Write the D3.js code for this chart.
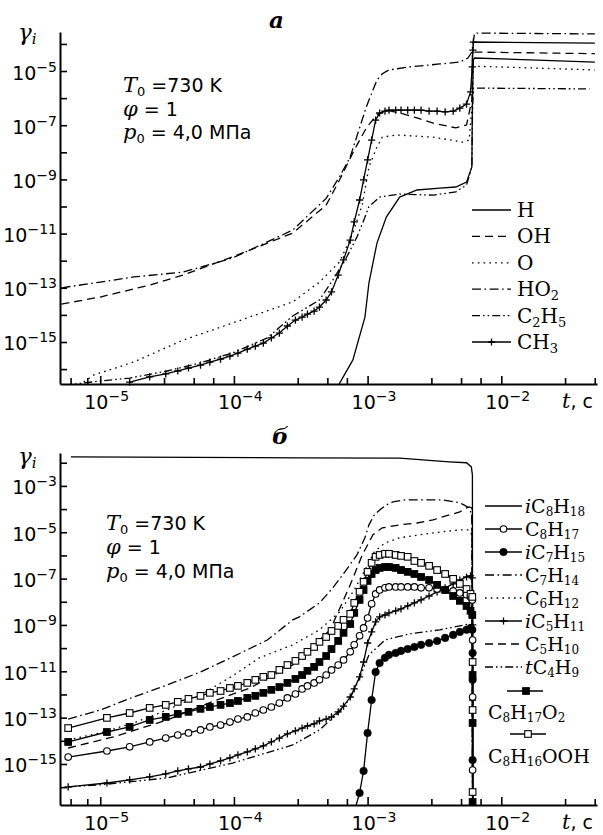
<!DOCTYPE html>
<html>
<head>
<meta charset="utf-8">
<script src="https://cdn.jsdelivr.net/npm/d3@7"></script>
<style>
  body { margin: 0; background: #fff; }
  svg { display: block; }
</style>
</head>
<body>
<svg id="chart" width="603" height="835"></svg>
<script>
// =====================================================================
// DATA, stored as log10 values: [log10 t, log10 γ]
// =====================================================================

// output times of the run (log10 t, s); the marked curves use these
const lgTime = [-5.24, -4.95, -4.78, -4.63, -4.51, -4.42, -4.34, -4.25, -4.18, -4.10,
  -4.03, -3.97, -3.90, -3.84, -3.78, -3.72, -3.66, -3.60, -3.54, -3.49,
  -3.45, -3.40, -3.36, -3.31, -3.27, -3.22, -3.18, -3.13, -3.10, -3.06,
  -3.03, -3.00, -2.97, -2.94, -2.91, -2.87, -2.84, -2.79, -2.75, -2.70,
  -2.65, -2.60, -2.54, -2.48, -2.42, -2.36, -2.31, -2.26, -2.23, -2.217];
const lgDropTime = -2.2145;   // points on the ignition drop
const lgAfterDrop = -2.214;   // last point, below the axis
const OFF_SCALE = -18;

// ---- panel a ----
const H_a = [[-3.23, -16.7], [-3.11, -15.66], [-3.02, -14.08], [-2.99, -12.82], [-2.93, -11.35],
  [-2.86, -10.39], [-2.76, -9.65], [-2.63, -9.39], [-2.46, -9.32], [-2.34, -9.28], [-2.26, -9.10],
  [-2.22, -8.54], [-2.216, -6.07], [-2.209, -4.59], [-2.20, -4.52], [-1.30, -4.67]];
const OH_a = [[-5.29, -13.60], [-5.0, -13.34], [-4.63, -12.90], [-4.38, -12.53], [-4.01, -11.86],
  [-3.56, -10.98], [-3.31, -9.95], [-3.21, -9.02], [-3.10, -7.92], [-3.01, -7.10], [-2.93, -6.62],
  [-2.86, -6.44], [-2.76, -6.55], [-2.63, -6.73], [-2.51, -6.92], [-2.34, -7.10], [-2.26, -6.99],
  [-2.22, -6.07], [-2.216, -4.30], [-1.30, -4.36]];
const O_a = [[-5.16, -16.6], [-5.05, -16.22], [-4.75, -15.74], [-4.38, -14.93], [-4.01, -14.3],
  [-3.56, -13.52], [-3.36, -12.79], [-3.21, -12.05], [-3.11, -10.98], [-3.04, -9.94], [-2.99, -8.54],
  [-2.93, -7.80], [-2.89, -7.44], [-2.78, -7.36], [-2.51, -7.44], [-2.29, -7.62], [-2.24, -7.55],
  [-2.216, -6.07], [-2.209, -4.82], [-1.30, -4.96]];
const HO2_a = [[-5.29, -13.0], [-5.0, -12.79], [-4.75, -12.6], [-4.38, -12.42], [-4.01, -11.9],
  [-3.56, -10.87], [-3.31, -9.7], [-3.21, -8.9], [-3.13, -8.17], [-3.06, -7.1], [-3.01, -6.33],
  [-2.93, -5.33], [-2.89, -5.1], [-2.84, -4.96], [-2.69, -4.85], [-2.46, -4.74], [-2.31, -4.67],
  [-2.25, -4.52], [-2.22, -4.3], [-2.20, -3.6], [-1.30, -3.63]];
const C2H5_a = [[-5.27, -16.6], [-5.0, -16.44], [-4.78, -16.33], [-4.5, -16.07], [-4.25, -15.77],
  [-4.01, -15.4], [-3.75, -14.85], [-3.56, -14.04], [-3.36, -13.45], [-3.26, -12.71], [-3.16, -11.9],
  [-3.08, -11.13], [-3.02, -10.4], [-2.99, -10.0], [-2.91, -9.65], [-2.76, -9.54], [-2.51, -9.58],
  [-2.34, -9.46], [-2.26, -9.21], [-2.22, -8.54], [-2.216, -6.70], [-2.209, -5.63], [-1.34, -5.66]];
// CH3 on the output times, then the jump and the level after ignition
const CH3_a = [null, null, -16.48, -16.29, -16.18, -16.07, -15.96, -15.85, -15.74, -15.63,
  -15.52, -15.41, -15.26, -15.15, -15.04, -14.85, -14.67, -14.41, -14.19, -14.08,
  -13.97, -13.86, -13.71, -13.45, -13.15, -12.53, -11.97, -11.24, -10.57, -9.76,
  -9.02, -8.28, -7.55, -6.81, -6.55, -6.48, -6.44, -6.44, -6.44, -6.44,
  -6.44, -6.44, -6.48, -6.48, -6.51, -6.48, -6.37, -6.22, -5.77, -4.85];
const CH3_jump_a = [[-2.212, -4.23], [-2.209, -3.93]];
const CH3_after_a = [[-1.30, -3.97]];

// ---- panel б ----
const iC8H18_b = [[-5.22, -1.75], [-3.51, -1.79], [-2.76, -1.80], [-2.39, -1.96], [-2.26, -2.0],
  [-2.224, -2.18], [-2.216, -2.53], [-2.214, OFF_SCALE]];
const C8H17_b = [-14.70, -14.44, -14.26, -14.05, -13.88, -13.75, -13.66, -13.53, -13.40, -13.32,
  -13.19, -13.06, -12.97, -12.80, -12.67, -12.54, -12.37, -12.15, -11.98, -11.76,
  -11.63, -11.50, -11.37, -11.16, -10.94, -10.73, -10.51, -10.16, -9.86, -9.47,
  -9.13, -8.70, -8.09, -7.66, -7.49, -7.40, -7.36, -7.36, -7.36, -7.36,
  -7.36, -7.40, -7.40, -7.45, -7.49, -7.53, -7.62, -7.70, -7.79, -7.92];
const C8H17_drop = [-9.65, -12.11, -15.26];
const iC7H15_b = [null, null, null, null, null, null, null, null, null, null,
  null, null, null, null, null, null, null, null, null, null,
  null, null, null, null, null, null, null, null, -17.07, -16.25,
  -15.30, -13.66, -12.24, -11.03, -10.64, -10.42, -10.29, -10.21, -10.12, -10.04,
  -9.95, -9.86, -9.78, -9.69, -9.56, -9.43, -9.30, -9.21, -9.13, -9.21];
const iC7H15_drop = [-10.21, -11.37, -14.83];
const C7H14_b = [[-5.24, -13.06], [-5.0, -12.67], [-4.75, -12.11], [-4.5, -11.59], [-4.25, -11.03],
  [-4.01, -10.38], [-3.75, -9.65], [-3.56, -8.78], [-3.51, -8.65], [-3.36, -8.05], [-3.26, -7.40],
  [-3.17, -6.71], [-3.08, -5.98], [-3.02, -5.24], [-2.99, -4.68], [-2.95, -4.25], [-2.91, -4.04],
  [-2.86, -3.82], [-2.81, -3.69], [-2.72, -3.60], [-2.63, -3.60], [-2.54, -3.60], [-2.44, -3.60],
  [-2.35, -3.69], [-2.31, -3.73], [-2.28, -3.82], [-2.24, -3.95], [-2.22, -4.25], [-2.214, OFF_SCALE]];
const C6H12_b = [[-5.24, -13.96], [-5.0, -13.66], [-4.75, -13.23], [-4.5, -12.67], [-4.25, -12.02],
  [-4.01, -11.20], [-3.81, -10.42], [-3.56, -9.86], [-3.36, -9.21], [-3.21, -8.44], [-3.10, -7.49],
  [-3.02, -6.63], [-2.95, -5.85], [-2.87, -5.46], [-2.76, -5.24], [-2.61, -5.11], [-2.46, -4.99],
  [-2.31, -4.90], [-2.24, -4.90], [-2.22, -5.11], [-2.214, OFF_SCALE]];
const iC5H11_b = [-15.99, -15.82, -15.69, -15.56, -15.43, -15.30, -15.21, -15.13, -15.00, -14.87,
  -14.74, -14.61, -14.48, -14.35, -14.22, -14.05, -13.88, -13.70, -13.57, -13.45,
  -13.36, -13.27, -13.14, -13.06, -12.97, -12.75, -12.50, -12.11, -11.76, -11.24,
  -10.60, -9.78, -9.30, -8.87, -8.65, -8.57, -8.48, -8.39, -8.31, -8.18,
  -8.05, -7.92, -7.75, -7.57, -7.40, -7.23, -7.06, -6.93, -6.88, -6.97];
const iC5H11_drop = [-7.92, -9.00, -12.24];
const C5H10_b = [[-5.24, -14.31], [-4.90, -13.83], [-4.50, -13.10], [-4.13, -12.24], [-3.88, -11.72],
  [-3.56, -10.73], [-3.28, -9.21], [-3.13, -7.27], [-3.04, -5.98], [-2.96, -5.11], [-2.89, -4.81],
  [-2.76, -4.68], [-2.63, -4.60], [-2.51, -4.47], [-2.44, -4.34], [-2.31, -4.12], [-2.26, -3.95],
  [-2.24, -3.91], [-2.22, -3.95], [-2.214, OFF_SCALE]];
const tC4H9_b = [[-5.24, -15.99], [-5.0, -15.90], [-4.5, -15.60], [-4.01, -14.96], [-3.56, -14.18],
  [-3.36, -13.53], [-3.21, -12.75], [-3.13, -12.15], [-3.06, -11.29], [-2.99, -10.29], [-2.87, -9.65],
  [-2.69, -9.39], [-2.46, -9.21], [-2.31, -9.04], [-2.24, -8.96], [-2.22, -9.04], [-2.214, OFF_SCALE]];
const C8H17O2_b = [-14.05, -13.62, -13.40, -13.10, -12.97, -12.84, -12.75, -12.62, -12.54, -12.45,
  -12.37, -12.28, -12.15, -12.06, -11.93, -11.80, -11.68, -11.50, -11.33, -11.16,
  -10.98, -10.81, -10.60, -10.34, -10.04, -9.69, -9.34, -8.96, -8.48, -7.92,
  -7.49, -7.10, -6.80, -6.63, -6.54, -6.50, -6.50, -6.54, -6.63, -6.71,
  -6.80, -6.93, -7.06, -7.27, -7.49, -7.75, -7.96, -8.18, -8.39, -8.57];
const C8H17O2_drop = [-11.16, -13.23, -16.64];
const C8H16OOH_b = [-13.45, -13.01, -12.80, -12.58, -12.45, -12.32, -12.19, -12.06, -11.93, -11.85,
  -11.72, -11.63, -11.50, -11.37, -11.24, -11.16, -10.94, -10.73, -10.55, -10.34,
  -10.16, -9.95, -9.73, -9.52, -9.26, -9.04, -8.78, -8.52, -8.05, -7.57,
  -7.14, -6.71, -6.32, -6.06, -5.98, -5.93, -5.93, -5.98, -6.02, -6.06,
  -6.24, -6.32, -6.45, -6.63, -6.80, -7.01, -7.23, -7.45, -7.66, -7.79];
const C8H16OOH_drop = [-10.60, -12.67, -16.21];

// axes
const xDomain = [5e-6, 5.2e-2];
const xMajor = [1e-5, 1e-4, 1e-3, 1e-2];
const xMinor = [6e-6, 8e-6, 3e-5, 5e-5, 7e-5, 3e-4, 5e-4, 7e-4, 3e-3, 5e-3, 7e-3, 3e-2, 5e-2];
const xLabels = ["10^−5", "10^−4", "10^−3", "10^−2"];
const yTickExpA = [-4, -5, -6, -7, -8, -9, -10, -11, -12, -13, -14, -15, -16];
const yLabelExpA = [-5, -7, -9, -11, -13, -15];
const yTickExpB = [-2, -3, -4, -5, -6, -7, -8, -9, -10, -11, -12, -13, -14, -15, -16];
const yLabelExpB = [-3, -5, -7, -9, -11, -13, -15];
const notes = ["*T*_0 =730 K", "*φ* = 1", "*p*_0 = 4,0 МПа"];

// =====================================================================
// HELPERS
// =====================================================================
const SANS = "DejaVu Sans", SERIF = "DejaVu Serif";
const DASH = { solid: null, dash: "8,5", dot: "1.6,4.2", dashdot: "9,3.5,1.6,3.5", dashdotdot: "8,3,1.6,3,1.6,3" };
const svg = d3.select("#chart");
const X0 = 60, X1 = 597;
const x = d3.scaleLog().domain(xDomain).range([X0, X1]);

function onGrid(vals, drop) {
  const pts = lgTime.map((t, i) => [t, vals[i]]);
  drop.forEach(v => pts.push([lgDropTime, v]));
  return pts;
}

// tiny markup: *it*  _sub  ^sup
function addRich(g, px, py, markup, o) {
  const text = g.append("text").attr("x", px).attr("y", py)
    .attr("font-family", o.family).attr("font-size", o.size)
    .attr("text-anchor", o.anchor || "start").attr("fill", "#000");
  const re = /\*([^*]+)\*|_(\d+|[a-z])|\^([−\-\d]+)|([^*_^]+)/g;
  let m, shift = 0;
  while ((m = re.exec(markup))) {
    let str, off = 0, small = false, it = false;
    if (m[1]) { str = m[1]; it = true; }
    else if (m[2]) { str = m[2]; off = o.sub || 5; small = true; it = /[a-z]/.test(str); }
    else if (m[3]) { str = m[3]; off = -(o.sup || 8); small = true; }
    else str = m[4];
    const ts = text.append("tspan").attr("dy", off - shift).text(str);
    shift = off;
    if (small) ts.attr("font-size", o.small);
    if (it) ts.attr("font-family", SERIF).attr("font-style", "italic")
      .attr("font-size", small ? o.small : (o.itSize || o.size));
  }
  return text;
}

function drawMarkers(g, pts, kind) {
  const sel = g.append("g");
  if (kind === "oc" || kind === "fc") {
    sel.selectAll("circle").data(pts).join("circle")
      .attr("cx", d => d[0]).attr("cy", d => d[1])
      .attr("r", kind === "oc" ? 3.3 : 3.8)
      .attr("fill", kind === "oc" ? "#fff" : "#000")
      .attr("stroke", "#000").attr("stroke-width", kind === "oc" ? 1.1 : 0.5);
  } else if (kind === "os" || kind === "fs") {
    sel.selectAll("rect").data(pts).join("rect")
      .attr("x", d => d[0] - 3.3).attr("y", d => d[1] - 3.3)
      .attr("width", 6.6).attr("height", 6.6)
      .attr("fill", kind === "os" ? "#fff" : "#000")
      .attr("stroke", "#000").attr("stroke-width", 1.1);
  } else if (kind === "plus") {
    sel.selectAll("path").data(pts).join("path")
      .attr("d", d => `M${d[0] - 3.6},${d[1]}H${d[0] + 3.6}M${d[0]},${d[1] - 3.6}V${d[1] + 3.6}`)
      .attr("stroke", "#000").attr("stroke-width", 1.3).attr("fill", "none");
  }
}

// =====================================================================
// PANELS
// =====================================================================
const panels = [
  {
    key: "a", title: "a", titleX: 269, titleY: 28,
    top: 32, bottom: 384, yExp: [-16.55, -3.56],
    yTicks: yTickExpA, yLabels: yLabelExpA, gammaY: 40,
    noteX: 123, noteY: [92, 116, 139],
    legend: { x0: 472, x1: 511, tx: 517, y0: 210, dy: 26.4, ty: 7,
      font: { family: SERIF, size: 20, small: 13, sub: 4 } },
    series: [
      { name: "H", line: H_a, dash: "solid" },
      { name: "OH", line: OH_a, dash: "dash" },
      { name: "O", line: O_a, dash: "dot" },
      { name: "HO_2", line: HO2_a, dash: "dashdot" },
      { name: "C_2H_5", line: C2H5_a, dash: "dashdotdot" },
      { name: "CH_3", dash: "solid", marker: "plus",
        line: onGrid(CH3_a, []).concat(CH3_jump_a, CH3_after_a),
        marks: onGrid(CH3_a, []).concat(CH3_jump_a) }
    ]
  },
  {
    key: "b", title: "б", titleX: 272, titleY: 444,
    top: 453, bottom: 805, yExp: [-16.77, -1.58],
    yTicks: yTickExpB, yLabels: yLabelExpB, gammaY: 464,
    noteX: 106, noteY: [530, 554, 578],
    legend: { x0: 485, x1: 522, tx: 525, y0: 506, dy: 23, ty: 7,
      font: { family: SERIF, size: 19, small: 12, sub: 2.5 } },
    series: [
      { name: "*i*C_8H_18", line: iC8H18_b, dash: "solid" },
      { name: "C_8H_17", marker: "oc", dash: "solid",
        marks: onGrid(C8H17_b, C8H17_drop) },
      { name: "*i*C_7H_15", marker: "fc", dash: "solid",
        marks: onGrid(iC7H15_b, iC7H15_drop) },
      { name: "C_7H_14", line: C7H14_b, dash: "dashdot" },
      { name: "C_6H_12", line: C6H12_b, dash: "dot" },
      { name: "*i*C_5H_11", marker: "plus", dash: "solid",
        marks: onGrid(iC5H11_b, iC5H11_drop) },
      { name: "C_5H_10", line: C5H10_b, dash: "dash" },
      { name: "*t*C_4H_9", line: tC4H9_b, dash: "dashdotdot" },
      { name: "C_8H_17O_2", marker: "fs", dash: "solid",
        marks: onGrid(C8H17O2_b, C8H17O2_drop),
        leg: { lx0: 507, lx1: 543, ly: 691, mx: 526, tx: 488, ty: 719 } },
      { name: "C_8H_16OOH", marker: "os", dash: "solid",
        marks: onGrid(C8H16OOH_b, C8H16OOH_drop),
        leg: { lx0: 510, lx1: 546, ly: 734, mx: 528, tx: 488, ty: 763 } }
    ]
  }
];

// marked curves end with a point below the axis
panels.forEach(p => p.series.forEach(s => {
  if (!s.line) s.line = s.marks.concat([[lgAfterDrop, OFF_SCALE]]);
}));

const tickFont = { family: SANS, size: 19, small: 14, sup: 8 };
const noteFont = { family: SANS, size: 19, small: 13, sub: 4, itSize: 21 };

panels.forEach(p => {
  const g = svg.append("g").attr("class", "panel-" + p.key);
  const y = d3.scaleLog().domain(p.yExp.map(e => 10 ** e)).range([p.bottom, p.top]);
  const px = d => x(10 ** d[0]);
  const py = d => y(10 ** d[1]);

  // clip
  const clipId = "clip-" + p.key;
  g.append("clipPath").attr("id", clipId).append("rect")
    .attr("x", X0).attr("y", p.top - 2).attr("width", X1 - X0).attr("height", p.bottom - p.top + 2);

  // curves
  const line = d3.line().defined(d => d[1] !== null).x(px).y(py);
  const curves = g.append("g").attr("clip-path", `url(#${clipId})`);
  p.series.forEach(s => {
    curves.append("path").datum(s.line).attr("d", line)
      .attr("fill", "none").attr("stroke", "#000").attr("stroke-width", 1.3)
      .attr("stroke-dasharray", DASH[s.dash]);
  });
  ["plus", "oc", "fc", "fs", "os"].forEach(kind => {
    p.series.filter(s => s.marker === kind).forEach(s => {
      const pts = s.marks.filter(d => d[1] !== null && d[1] >= p.yExp[0]).map(d => [px(d), py(d)]);
      drawMarkers(g, pts, kind);
    });
  });

  // y axis
  const ya = g.append("g").attr("transform", `translate(${X0},0)`)
    .call(d3.axisLeft(y).tickValues(p.yTicks.map(e => 10 ** e)).tickSize(-7).tickSizeOuter(0).tickFormat(""));
  ya.select(".domain").attr("stroke-width", 2);
  ya.selectAll(".tick line").attr("stroke-width", 1.6);
  p.yLabels.forEach(e => addRich(g, X0 - 3, y(10 ** e) + 8.5, "10^−" + (-e), { ...tickFont, anchor: "end" }));

  // x axis
  const xa = g.append("g").attr("transform", `translate(0,${p.bottom})`)
    .call(d3.axisBottom(x).tickValues(xMajor).tickSize(-8).tickSizeOuter(0).tickFormat(""));
  xa.select(".domain").attr("stroke-width", 2);
  xa.selectAll(".tick line").attr("stroke-width", 1.6);
  const xm = g.append("g").attr("transform", `translate(0,${p.bottom})`)
    .call(d3.axisBottom(x).tickValues(xMinor).tickSize(-6).tickSizeOuter(0).tickFormat(""));
  xm.select(".domain").remove();
  xm.selectAll(".tick line").attr("stroke-width", 1.6);
  xMajor.forEach((v, i) => addRich(g, x(v) - 16, p.bottom + 25, xLabels[i], tickFont));
  addRich(g, 562, p.bottom + 24, "*t*, c", { family: SANS, size: 19, itSize: 21 });

  // axis name, panel letter
  addRich(g, 18, p.gammaY, "*γ*_i", { family: SERIF, size: 22, itSize: 23, small: 15, sub: 4 });
  g.append("text").attr("x", p.titleX).attr("y", p.titleY)
    .attr("font-family", SERIF).attr("font-style", "italic").attr("font-weight", "bold")
    .attr("font-size", 23).text(p.title);

  // conditions
  notes.forEach((n, i) => addRich(g, p.noteX, p.noteY[i], n, noteFont));

  // legend
  const L = p.legend;
  p.series.forEach((s, i) => {
    const o = s.leg || { lx0: L.x0, lx1: L.x1, ly: L.y0 + L.dy * i,
      mx: (L.x0 + L.x1) / 2, tx: L.tx, ty: L.y0 + L.dy * i + L.ty };
    g.append("line").attr("x1", o.lx0).attr("x2", o.lx1).attr("y1", o.ly).attr("y2", o.ly)
      .attr("stroke", "#000").attr("stroke-width", 1.3).attr("stroke-dasharray", DASH[s.dash]);
    if (s.marker) drawMarkers(g, [[o.mx, o.ly]], s.marker);
    addRich(g, o.tx, o.ty, s.name, L.font);
  });
});
</script>
</body>
</html>
